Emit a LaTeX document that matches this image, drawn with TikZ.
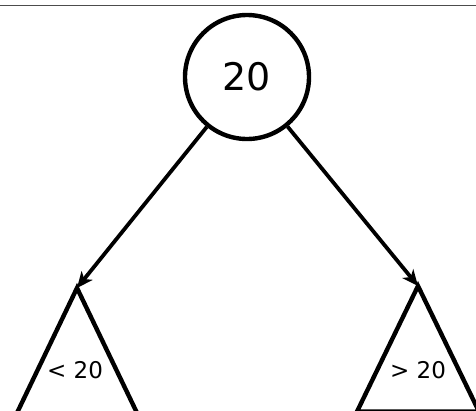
\documentclass[tikz,border=0pt]{standalone}
\usepackage{fontspec}
\setmainfont{DejaVu Sans}
\usetikzlibrary{arrows.meta}
\begin{document}
\begin{tikzpicture}[x=1pt,y=-1pt,
  stroke/.style={line width=4.4pt, black, line join=miter},
  arr/.style={line width=3.8pt, -{Stealth[length=16pt,width=14pt,inset=4.5pt]}},
  lbl/.style={font=\fontsize{23}{26}\selectfont, inner sep=0pt}]
\useasboundingbox (0,0) rectangle (476,410);
\draw[gray!60!black, line width=1.8pt] (0,5.5) -- (476,5.5);
\node[circle, draw, line width=4.4pt, minimum size=124pt, inner sep=0pt,
      font=\fontsize{38}{40}\selectfont] (root) at (247,77) {20};
\coordinate (la) at (77,288);
\coordinate (lb1) at (16,415);
\coordinate (lb2) at (138,415);
\coordinate (ra) at (418,286);
\coordinate (rb1) at (357,411.6);
\coordinate (rb2) at (479,411.6);
\draw[stroke] (lb1) -- (la) -- (lb2) -- cycle;
\draw[stroke] (rb1) -- (ra) -- (rb2) -- cycle;
\draw[arr] (root) -- (la);
\draw[arr] (root) -- (ra);
\node[lbl] (ltext) at (75,370) {\textless{} 20};
\node[lbl] (rtext) at (418,370) {\textgreater{} 20};
\end{tikzpicture}
\end{document}
